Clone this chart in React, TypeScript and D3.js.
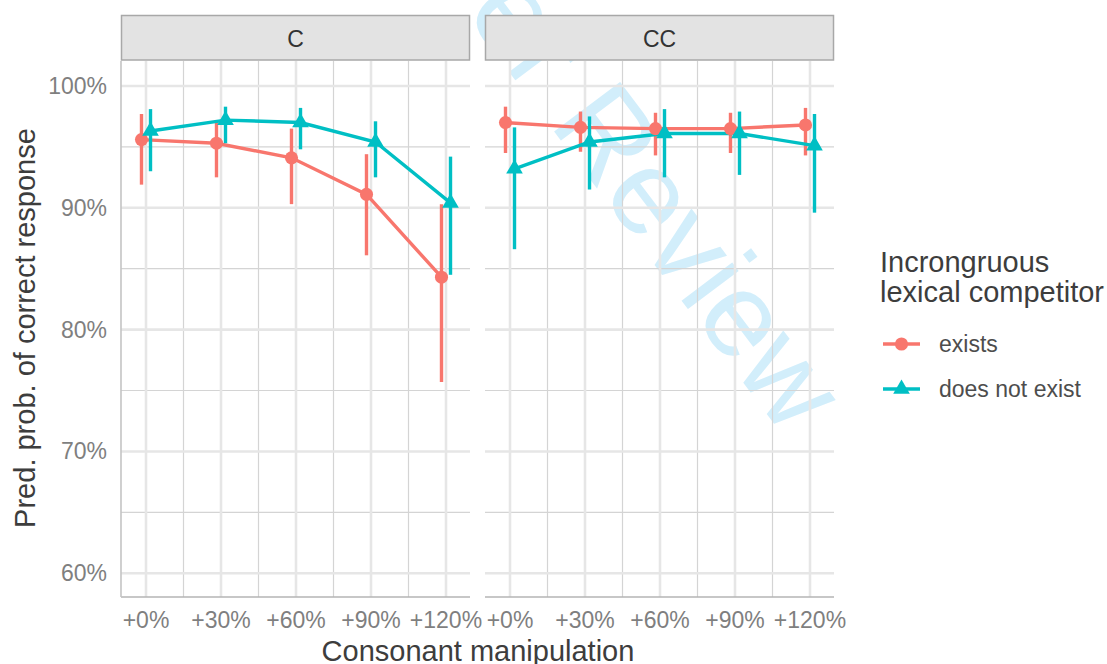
import React, { useEffect, useRef } from "react";
import * as d3 from "d3";

// facets / categories
const facets = ["C", "CC"];
const categories = ["+0%", "+30%", "+60%", "+90%", "+120%"];
const manipulation = [0, 30, 60, 90, 120];
const minorX = [15, 45, 75, 105];
const yTicks = [60, 70, 80, 90, 100];
const minorY = [65, 75, 85, 95];

const groups = ["exists", "does not exist"];
const groupColors = ["#F8766D", "#00BFC4"];

// predicted probability (%) with interval
const cExistsEst = [95.6, 95.3, 94.1, 91.1, 84.3];
const cExistsLo = [91.9, 92.5, 90.3, 86.1, 75.7];
const cExistsHi = [97.7, 97.2, 96.5, 94.4, 90.3];

const cNotEst = [96.3, 97.2, 97.0, 95.4, 90.4];
const cNotLo = [93.0, 95.3, 94.8, 92.5, 84.5];
const cNotHi = [98.1, 98.3, 98.2, 97.1, 94.2];

const ccExistsEst = [97.0, 96.6, 96.5, 96.5, 96.8];
const ccExistsLo = [94.5, 94.6, 94.3, 94.5, 94.3];
const ccExistsHi = [98.3, 97.9, 97.8, 97.8, 98.2];

const ccNotEst = [93.2, 95.4, 96.1, 96.1, 95.1];
const ccNotLo = [86.6, 91.5, 92.5, 92.7, 89.6];
const ccNotHi = [96.6, 97.5, 98.1, 97.9, 97.7];

const series = [
  { facet: 0, group: 0, est: cExistsEst, lo: cExistsLo, hi: cExistsHi },
  { facet: 0, group: 1, est: cNotEst, lo: cNotLo, hi: cNotHi },
  { facet: 1, group: 0, est: ccExistsEst, lo: ccExistsLo, hi: ccExistsHi },
  { facet: 1, group: 1, est: ccNotEst, lo: ccNotLo, hi: ccNotHi },
];

const font = "'Liberation Sans', Arial, sans-serif";

export default function App() {
  const ref = useRef<SVGSVGElement>(null);

  useEffect(() => {
    const svg = d3.select(ref.current);
    svg.selectAll("*").remove();

    const panelLeft = [121, 485];
    const panelW = 349;
    const top = 61;
    const bottom = 597;
    const dodge = [-1.8, 1.8];

    const y = d3.scaleLinear().domain([58.05, 102.05]).range([bottom, top]);
    const xs = panelLeft.map((l) =>
      d3.scaleLinear().domain([-10, 129.6]).range([l, l + panelW])
    );

    // watermark (behind the grid)
    svg
      .append("text")
      .attr("transform", "translate(785,438) rotate(53)")
      .attr("text-anchor", "end")
      .attr("font-family", font)
      .attr("font-size", 120)
      .attr("fill", "#d2eefb")
      .text("For Peer Review");

    facets.forEach((f, fi) => {
      const x = xs[fi];
      const g = svg.append("g");
      const [x0, x1] = x.range();

      // minor grid
      g.selectAll(".my")
        .data(minorY)
        .enter()
        .append("line")
        .attr("x1", x0)
        .attr("x2", x1)
        .attr("y1", (d) => y(d))
        .attr("y2", (d) => y(d))
        .attr("stroke", "#d4d4d4")
        .attr("stroke-width", 1.2);
      g.selectAll(".mx")
        .data(minorX)
        .enter()
        .append("line")
        .attr("x1", (d) => x(d))
        .attr("x2", (d) => x(d))
        .attr("y1", top)
        .attr("y2", bottom)
        .attr("stroke", "#d4d4d4")
        .attr("stroke-width", 1.2);
      // major grid
      g.selectAll(".gy")
        .data(yTicks)
        .enter()
        .append("line")
        .attr("x1", x0)
        .attr("x2", x1)
        .attr("y1", (d) => y(d))
        .attr("y2", (d) => y(d))
        .attr("stroke", "#e6e6e6")
        .attr("stroke-width", 2.6);
      g.selectAll(".gx")
        .data(manipulation)
        .enter()
        .append("line")
        .attr("x1", (d) => x(d))
        .attr("x2", (d) => x(d))
        .attr("y1", top)
        .attr("y2", bottom)
        .attr("stroke", "#e6e6e6")
        .attr("stroke-width", 2.6);

      // strip
      g.append("rect")
        .attr("x", x0 + 0.5)
        .attr("y", 15.5)
        .attr("width", panelW - 1)
        .attr("height", 44.5)
        .attr("fill", "#e3e3e3")
        .attr("stroke", "#a8a8a8")
        .attr("stroke-width", 1.5);
      g.append("text")
        .attr("x", (x0 + x1) / 2)
        .attr("y", 47)
        .attr("text-anchor", "middle")
        .attr("font-family", font)
        .attr("font-size", 23)
        .attr("fill", "#333333")
        .text(f);

      // axis lines
      g.append("line")
        .attr("x1", x0)
        .attr("x2", x1)
        .attr("y1", bottom)
        .attr("y2", bottom)
        .attr("stroke", "#b5b5b5")
        .attr("stroke-width", 1.6);
      if (fi === 0) {
        g.append("line")
          .attr("x1", x0)
          .attr("x2", x0)
          .attr("y1", top)
          .attr("y2", bottom)
          .attr("stroke", "#c4c4c4")
          .attr("stroke-width", 1.6);
      }

      // x tick labels
      g.selectAll(".xt")
        .data(categories)
        .enter()
        .append("text")
        .attr("x", (d, i) => x(manipulation[i]))
        .attr("y", 628)
        .attr("text-anchor", "middle")
        .attr("font-family", font)
        .attr("font-size", 23)
        .attr("fill", "#7f7f7f")
        .text((d) => d);

      const fs = series.filter((s) => s.facet === fi);

      fs.forEach((s) => {
        const xd = (i: number) => x(manipulation[i] + dodge[s.group]);
        const col = groupColors[s.group];
        const line = d3
          .line<number>()
          .x((d, i) => xd(i))
          .y((d) => y(d));
        g.append("path")
          .datum(s.est)
          .attr("d", line)
          .attr("fill", "none")
          .attr("stroke", col)
          .attr("stroke-width", 3.4);
        g.selectAll(".eb" + s.group)
          .data(s.est)
          .enter()
          .append("line")
          .attr("x1", (d, i) => xd(i))
          .attr("x2", (d, i) => xd(i))
          .attr("y1", (d, i) => y(s.lo[i]))
          .attr("y2", (d, i) => y(s.hi[i]))
          .attr("stroke", col)
          .attr("stroke-width", 3.4);
      });
      fs.forEach((s) => {
        const xd = (i: number) => x(manipulation[i] + dodge[s.group]);
        const col = groupColors[s.group];
        const sym = d3
          .symbol()
          .type(s.group === 0 ? d3.symbolCircle : d3.symbolTriangle)
          .size(s.group === 0 ? 135 : 120);
        g.selectAll(".pt" + s.group)
          .data(s.est)
          .enter()
          .append("path")
          .attr("d", sym() as string)
          .attr("transform", (d, i) => `translate(${xd(i)},${y(d)})`)
          .attr("fill", col);
      });
    });

    // y tick labels
    svg
      .selectAll(".yt")
      .data(yTicks)
      .enter()
      .append("text")
      .attr("x", 107)
      .attr("y", (d) => y(d) + 8)
      .attr("text-anchor", "end")
      .attr("font-family", font)
      .attr("font-size", 23)
      .attr("fill", "#7f7f7f")
      .text((d) => d + "%");

    // axis titles
    svg
      .append("text")
      .attr("transform", "translate(35,328) rotate(-90)")
      .attr("text-anchor", "middle")
      .attr("font-family", font)
      .attr("font-size", 29)
      .attr("fill", "#3d3d3d")
      .text("Pred. prob. of correct response");
    svg
      .append("text")
      .attr("x", 478)
      .attr("y", 661)
      .attr("text-anchor", "middle")
      .attr("font-family", font)
      .attr("font-size", 29)
      .attr("fill", "#3d3d3d")
      .text("Consonant manipulation");

    // legend
    const leg = svg.append("g");
    leg
      .selectAll(".lt")
      .data(["Incrongruous", "lexical competitor"])
      .enter()
      .append("text")
      .attr("x", 880)
      .attr("y", (d, i) => 272 + i * 29.5)
      .attr("font-family", font)
      .attr("font-size", 29)
      .attr("fill", "#3d3d3d")
      .text((d) => d);
    groups.forEach((gName, i) => {
      const ky = 344 + i * 45;
      leg
        .append("line")
        .attr("x1", 883)
        .attr("x2", 920)
        .attr("y1", ky)
        .attr("y2", ky)
        .attr("stroke", groupColors[i])
        .attr("stroke-width", 3.6);
      leg
        .append("path")
        .attr(
          "d",
          d3
            .symbol()
            .type(i === 0 ? d3.symbolCircle : d3.symbolTriangle)
            .size(i === 0 ? 135 : 120)() as string
        )
        .attr("transform", `translate(901.5,${ky})`)
        .attr("fill", groupColors[i]);
      leg
        .append("text")
        .attr("x", 939)
        .attr("y", ky + 8)
        .attr("font-family", font)
        .attr("font-size", 23)
        .attr("fill", "#4d4d4d")
        .text(gName);
    });
  }, []);

  return (
    <svg
      ref={ref}
      width={1107}
      height={664}
      style={{ position: "absolute", left: 0, top: 0, background: "#fff" }}
    />
  );
}
